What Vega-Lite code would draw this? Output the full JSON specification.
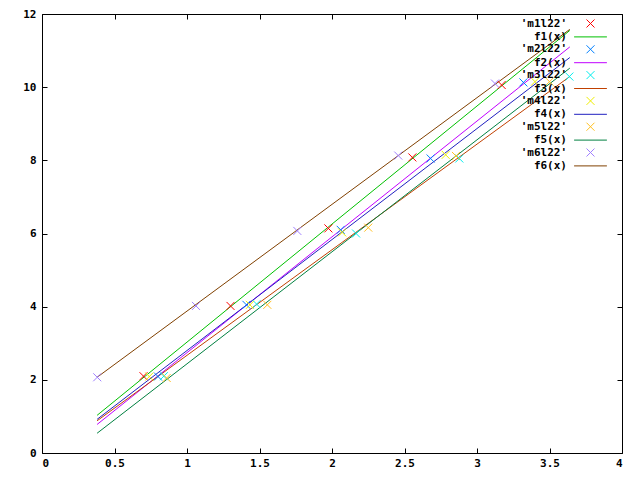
{
  "$schema": "https://vega.github.io/schema/vega-lite/v6.json",
  "width": 580,
  "height": 439,
  "autosize": "none",
  "padding": {"left": 42, "top": 14, "right": 18, "bottom": 27},
  "background": "white",
  "config": {
    "view": {"stroke": "#000000", "strokeWidth": 1},
    "font": "DejaVu Sans Mono",
    "axis": {
      "grid": false,
      "domain": false,
      "tickColor": "#000000",
      "tickSize": 5,
      "offset": -5,
      "tickWidth": 1,
      "labelFont": "DejaVu Sans Mono",
      "labelFontSize": 11,
      "labelFontWeight": "bold",
      "labelColor": "#000000",
      "title": null
    }
  },
  "datasets": {
    "points": [
      {"series": "'m1l22'", "x": 0.70, "y": 2.10},
      {"series": "'m1l22'", "x": 1.30, "y": 4.02},
      {"series": "'m1l22'", "x": 1.975, "y": 6.14},
      {"series": "'m1l22'", "x": 2.554, "y": 8.08},
      {"series": "'m1l22'", "x": 3.17, "y": 10.06},
      {"series": "'m2l22'", "x": 0.80, "y": 2.09},
      {"series": "'m2l22'", "x": 1.41, "y": 4.05},
      {"series": "'m2l22'", "x": 2.06, "y": 6.10},
      {"series": "'m2l22'", "x": 2.68, "y": 8.05},
      {"series": "'m2l22'", "x": 3.32, "y": 10.13},
      {"series": "'m3l22'", "x": 0.84, "y": 2.10},
      {"series": "'m3l22'", "x": 1.48, "y": 4.07},
      {"series": "'m3l22'", "x": 2.166, "y": 6.00},
      {"series": "'m3l22'", "x": 2.878, "y": 8.05},
      {"series": "'m3l22'", "x": 3.637, "y": 10.29},
      {"series": "'m4l22'", "x": 0.74, "y": 2.09},
      {"series": "'m4l22'", "x": 1.434, "y": 4.05},
      {"series": "'m4l22'", "x": 2.07, "y": 6.03},
      {"series": "'m4l22'", "x": 2.784, "y": 8.15},
      {"series": "'m4l22'", "x": 3.40, "y": 10.15},
      {"series": "'m5l22'", "x": 0.86, "y": 2.05},
      {"series": "'m5l22'", "x": 1.554, "y": 4.05},
      {"series": "'m5l22'", "x": 2.25, "y": 6.16},
      {"series": "'m5l22'", "x": 2.855, "y": 8.12},
      {"series": "'m5l22'", "x": 3.50, "y": 10.15},
      {"series": "'m6l22'", "x": 0.381, "y": 2.07},
      {"series": "'m6l22'", "x": 1.062, "y": 4.02},
      {"series": "'m6l22'", "x": 1.761, "y": 6.07},
      {"series": "'m6l22'", "x": 2.457, "y": 8.13},
      {"series": "'m6l22'", "x": 3.124, "y": 10.10}
    ],
    "lines": [
      {"series": "f1(x)", "x": 0.38, "y": 1.03},
      {"series": "f1(x)", "x": 3.64, "y": 11.55},
      {"series": "f2(x)", "x": 0.38, "y": 0.78},
      {"series": "f2(x)", "x": 3.64, "y": 11.10},
      {"series": "f3(x)", "x": 0.38, "y": 0.88},
      {"series": "f3(x)", "x": 3.64, "y": 10.29},
      {"series": "f4(x)", "x": 0.38, "y": 0.92},
      {"series": "f4(x)", "x": 3.64, "y": 10.81},
      {"series": "f5(x)", "x": 0.38, "y": 0.54},
      {"series": "f5(x)", "x": 3.64, "y": 10.52},
      {"series": "f6(x)", "x": 0.38, "y": 2.07},
      {"series": "f6(x)", "x": 3.64, "y": 11.58}
    ]
  },
  "layer": [
    {
      "data": {"name": "lines"},
      "mark": {"type": "line", "strokeWidth": 1, "clip": true},
      "encoding": {
        "x": {"field": "x", "type": "quantitative",
              "scale": {"domain": [0, 4], "nice": false, "zero": false},
              "axis": {"orient": "bottom", "values": [0, 0.5, 1, 1.5, 2, 2.5, 3, 3.5, 4], "labelExpr": "toString(datum.value)", "labelPadding": 4}},
        "y": {"field": "y", "type": "quantitative",
              "scale": {"domain": [0, 12], "nice": false, "zero": false},
              "axis": {"orient": "left", "values": [0, 2, 4, 6, 8, 10, 12], "labelExpr": "toString(datum.value)", "labelPadding": 6}},
        "color": {"field": "series", "type": "nominal",
                  "scale": {
                    "domain": ["'m1l22'", "f1(x)", "'m2l22'", "f2(x)", "'m3l22'", "f3(x)", "'m4l22'", "f4(x)", "'m5l22'", "f5(x)", "'m6l22'", "f6(x)"],
                    "range": ["#ff0000", "#00c000", "#0080ff", "#c000ff", "#00eeee", "#c04000", "#eeee00", "#2020c0", "#ffc020", "#008040", "#a080ff", "#804000"]
                  },
                  "legend": {
                    "title": null,
                    "orient": "none",
                    "legendX": 543,
                    "legendY": 4,
                    "padding": 0,
                    "symbolSize": 64,
                    "labelAlign": "right",
                    "labelBaseline": "middle",
                    "labelOffset": -29,
                    "labelFont": "DejaVu Sans Mono",
                    "labelFontSize": 11,
                    "labelFontWeight": "bold",
                    "labelColor": "#000000",
                    "rowPadding": 0.4,
                    "labelLimit": 0,
                    "encode": {
                      "symbols": {"update": {
                        "stroke": {"scale": "color", "field": "value"},
                        "fill": {"value": "transparent"},
                        "strokeWidth": {"value": 1},
                        "opacity": {"value": 1},
                        "shape": {"signal": "indexof(datum.value, 'f') == 0 ? 'M-4.1,0L4.1,0' : 'M-1,-1L1,1M1,-1L-1,1'"}
                      }}
                    }
                  }},
        "detail": {"field": "series"}
      }
    },
    {
      "data": {"name": "points"},
      "mark": {"type": "point", "filled": false, "strokeWidth": 1, "size": 64, "opacity": 1, "shape": "M-1,-1L1,1M1,-1L-1,1"},
      "encoding": {
        "x": {"field": "x", "type": "quantitative",
              "axis": {"orient": "top", "values": [0, 0.5, 1, 1.5, 2, 2.5, 3, 3.5, 4], "labels": false}},
        "y": {"field": "y", "type": "quantitative",
              "axis": {"orient": "right", "values": [0, 2, 4, 6, 8, 10, 12], "labels": false}},
        "color": {"field": "series", "type": "nominal"}
      }
    }
  ],
  "resolve": {"axis": {"x": "independent", "y": "independent"}}
}
